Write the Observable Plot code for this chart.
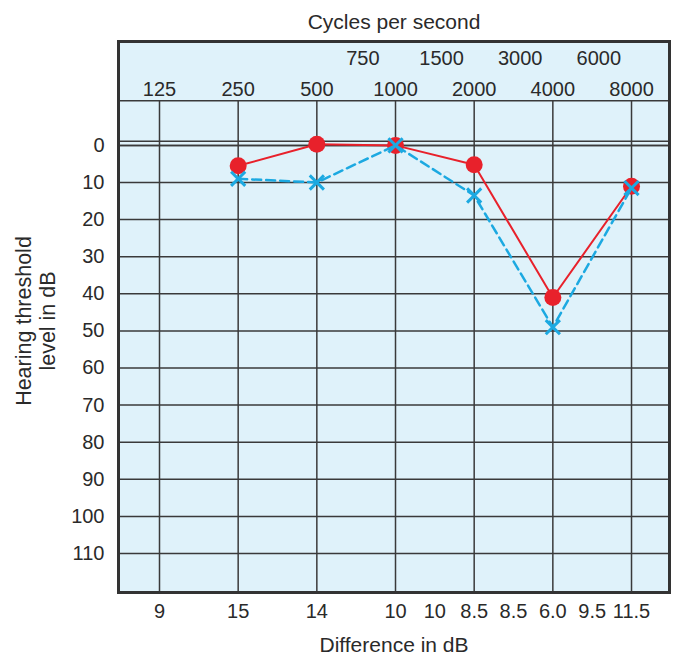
<!DOCTYPE html>
<html>
<head>
<meta charset="utf-8">
<script src="https://cdn.jsdelivr.net/npm/d3@7"></script>
<script src="https://cdn.jsdelivr.net/npm/@observablehq/plot@0.6"></script>
<style>
  html, body { margin: 0; padding: 0; background: #ffffff; }
  #chart svg { display: block; }
</style>
</head>
<body>
<div id="chart"></div>
<script>
// ---- data ----
const gridFreqs = [125, 250, 500, 1000, 2000, 4000, 8000];
const halfFreqs = [750, 1500, 3000, 6000];
const levelTicks = [0, 10, 20, 30, 40, 50, 60, 70, 80, 90, 100, 110];
const zeroLines = [0, -1.1];
const headerLine = [-12];

const diffFreqs = [125, 250, 500, 1000, 1500, 2000, 3000, 4000, 6000, 8000];
const diffLabels = ["9", "15", "14", "10", "10", "8.5", "8.5", "6.0", "9.5", "11.5"];

const testFreqs = [250, 500, 1000, 2000, 4000, 8000];
const redLevels = [5.5, -0.3, 0, 5.2, 41, 11];
const blueLevels = [9, 10, 0, 13.5, 49, 11.5];

const red = testFreqs.map((f, i) => ({f, v: redLevels[i]}));
const blue = testFreqs.map((f, i) => ({f, v: blueLevels[i]}));

// half-octave frequencies (1500, 3000, 6000) are printed midway between the octave lines
const labelPos = diffFreqs.map(f => (gridFreqs.includes(f) ? f : (f / 1.5) * Math.SQRT2));

const RED = "#e8212b";
const BLUE = "#1ca9e1";
const INK = "#2a2a2a";
const GRID = "#3a3a3a";
const FONT = "Liberation Sans, Arial, sans-serif";

const chart = Plot.plot({
  width: 673,
  height: 656,
  marginLeft: 118,
  marginRight: 4,
  marginTop: 41,
  marginBottom: 64,
  style: {fontFamily: FONT, fontSize: "20px", color: INK, background: "#ffffff"},
  x: {type: "log", base: 2, domain: [87.1, 11180]},
  y: {domain: [-28, 120.5], reverse: true},
  marks: [
    Plot.frame({fill: "#dff2fa", stroke: "none"}),
    Plot.ruleY(levelTicks, {stroke: GRID, strokeWidth: 1.5}),
    Plot.ruleY(zeroLines, {stroke: GRID, strokeWidth: 1.5}),
    Plot.ruleY(headerLine, {stroke: GRID, strokeWidth: 1.5}),
    Plot.ruleX(gridFreqs, {y1: headerLine[0], y2: 120.5, stroke: GRID, strokeWidth: 1.5}),
    // red series
    Plot.line(red, {x: "f", y: "v", stroke: RED, strokeWidth: 2}),
    Plot.dot(red, {x: "f", y: "v", r: 8.5, fill: RED, stroke: "none"}),
    // blue series
    Plot.line(blue, {x: "f", y: "v", stroke: BLUE, strokeWidth: 2.5, strokeDasharray: "9,5"}),
    Plot.dot(blue, {x: "f", y: "v", r: 6.5, symbol: "times", stroke: BLUE, strokeWidth: 3}),
    Plot.frame({stroke: "#333333", strokeWidth: 3}),
    // axes
    Plot.axisX({anchor: "top", ticks: gridFreqs, tickSize: 0, tickPadding: 3, dy: 57, tickFormat: d => String(d), label: null, fill: INK}),
    Plot.axisX({anchor: "top", ticks: halfFreqs, tickSize: 0, tickPadding: 3, dy: 26, tickFormat: d => String(d), label: null, fill: INK}),
    Plot.axisX({anchor: "bottom", ticks: labelPos, tickSize: 0, tickPadding: 11, tickFormat: d => diffLabels[labelPos.indexOf(d)], label: null, fill: INK}),
    Plot.axisY({anchor: "left", ticks: levelTicks, tickSize: 0, tickPadding: 14, tickFormat: d => String(d), label: null, fill: INK}),
    // titles
    Plot.text(["Cycles per second"], {frameAnchor: "top", dy: -19, lineAnchor: "middle", fontSize: 21, fill: INK}),
    Plot.text(["Difference in dB"], {frameAnchor: "bottom", dy: 53, lineAnchor: "middle", fontSize: 21, fill: INK}),
    Plot.text(["Hearing threshold\nlevel in dB"], {frameAnchor: "left", textAnchor: "middle", dx: -83, dy: 4, rotate: -90, lineAnchor: "middle", lineHeight: 1.1, fontSize: 21.5, fill: INK})
  ]
});

document.getElementById("chart").appendChild(chart);
</script>
</body>
</html>
